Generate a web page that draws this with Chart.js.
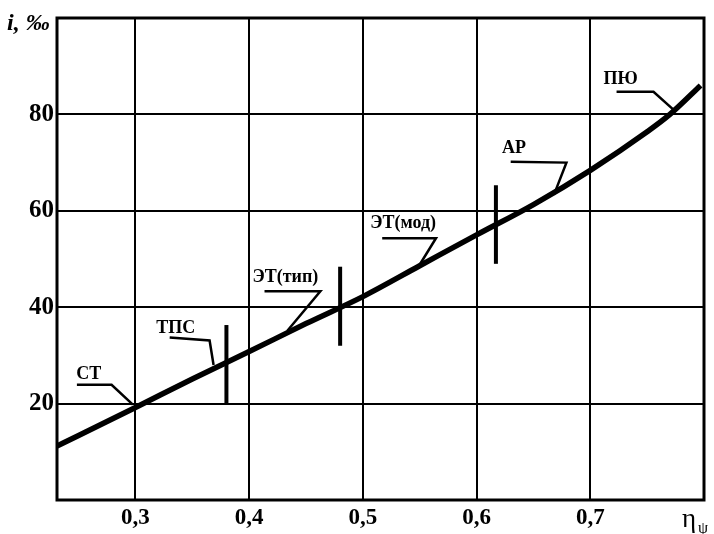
<!DOCTYPE html>
<html>
<head>
<meta charset="utf-8">
<script src="https://cdn.jsdelivr.net/npm/chart.js@4"></script>
<style>
  html, body { margin: 0; padding: 0; background: #fff; }
  canvas { display: block; }
</style>
</head>
<body>
<canvas id="chart" width="714" height="534"></canvas>
<script>
/* ---------------- DATA ---------------- */

const xMin = 0.231;
const xMax = 0.8;
const xTicks = [0.3, 0.4, 0.5, 0.6, 0.7];
const yTicks = [20, 40, 60, 80];

// main curve i(eta)
const etaX = [0.231, 0.25, 0.3, 0.35, 0.4, 0.45, 0.5, 0.55, 0.6, 0.65, 0.7, 0.75, 0.77, 0.797];
const slopeI = [11.2, 13.4, 19.2, 25.1, 30.8, 36.6, 42.2, 48.6, 55.0, 61.3, 68.4, 76.4, 80.0, 86.0];

// short vertical marks on the curve
const barX = [0.380, 0.480, 0.617];
const barLow = [20, 32, 49];
const barHigh = [36.3, 48.4, 65.3];

// annotation labels and their leader lines
const tagNames = ['СТ', 'ТПС', 'ЭТ(тип)', 'ЭТ(мод)', 'АР', 'ПЮ'];
const tagX = [0.259, 0.3354, 0.4319, 0.5354, 0.6328, 0.7266];
const tagY = [26.1, 35.7, 46.1, 57.3, 72.9, 87.3];
const leaderX = [
  [0.2485, 0.279, 0.2977],
  [0.3301, 0.3652, 0.3687],
  [0.4135, 0.4626, 0.4336],
  [0.517, 0.5643, 0.5494],
  [0.630, 0.679, 0.668],
  [0.7231, 0.7556, 0.7731]
];
const leaderY = [
  [23.9, 23.9, 19.8],
  [33.7, 33.1, 28.0],
  [43.3, 43.3, 35.1],
  [54.3, 54.3, 48.6],
  [70.2, 70.0, 63.3],
  [84.7, 84.7, 81.0]
];

/* ---------------- DATASETS ---------------- */

const datasets = [];

datasets.push({
  data: etaX.map((x, i) => ({ x: x, y: slopeI[i] })),
  borderColor: '#000',
  borderWidth: 5.5,
  pointRadius: 0,
  cubicInterpolationMode: 'monotone',
  showLine: true
});

barX.forEach((x, i) => {
  datasets.push({
    data: [{ x: x, y: barLow[i] }, { x: x, y: barHigh[i] }],
    borderColor: '#000',
    borderWidth: 4,
    pointRadius: 0,
    showLine: true
  });
});

leaderX.forEach((xs, i) => {
  datasets.push({
    data: xs.map((x, j) => ({ x: x, y: leaderY[i][j] })),
    borderColor: '#000',
    borderWidth: 2.5,
    pointRadius: 0,
    showLine: true
  });
});

/* ---------------- PLUGINS ---------------- */

const framePlugin = {
  id: 'frame',
  afterDatasetsDraw(chart) {
    const a = chart.chartArea;
    const ctx = chart.ctx;
    ctx.save();
    ctx.strokeStyle = '#000';
    ctx.lineWidth = 3;
    ctx.strokeRect(a.left, a.top, a.right - a.left, a.bottom - a.top);
    ctx.restore();
  }
};

const tagPlugin = {
  id: 'tags',
  afterDatasetsDraw(chart) {
    const ctx = chart.ctx;
    const xs = chart.scales.x;
    const ys = chart.scales.y;
    ctx.save();
    ctx.fillStyle = '#000';
    ctx.font = 'bold 18px "Liberation Serif"';
    ctx.textAlign = 'center';
    ctx.textBaseline = 'middle';
    tagNames.forEach((t, i) => {
      ctx.fillText(t, xs.getPixelForValue(tagX[i]), ys.getPixelForValue(tagY[i]));
    });

    // axis captions
    ctx.textAlign = 'left';
    ctx.textBaseline = 'alphabetic';
    ctx.font = 'bold italic 24px "Liberation Serif"';
    ctx.fillText('i, ‰', 7, 30);
    ctx.font = '27px "Liberation Serif"';
    ctx.fillText('η', 682, 527);
    ctx.font = '16px "Liberation Serif"';
    ctx.fillText('ψ', 698, 533);
    ctx.restore();
  }
};

/* ---------------- CHART ---------------- */

const fmt = v => v.toFixed(1).replace('.', ',');

new Chart(document.getElementById('chart').getContext('2d'), {
  type: 'scatter',
  data: { datasets: datasets },
  plugins: [framePlugin, tagPlugin],
  options: {
    responsive: false,
    animation: false,
    devicePixelRatio: 1,
    layout: { padding: { top: 10, right: 10, left: 0, bottom: 0 } },
    plugins: { legend: { display: false }, tooltip: { enabled: false } },
    scales: {
      x: {
        type: 'linear',
        min: xMin,
        max: xMax,
        afterBuildTicks: s => { s.ticks = xTicks.map(v => ({ value: v })); },
        afterFit: s => { s.height = 34; },
        ticks: {
          callback: v => fmt(v),
          color: '#000',
          font: { family: 'Liberation Serif', size: 23, weight: 'bold' },
          padding: 4,
          maxRotation: 0,
          autoSkip: false
        },
        grid: { color: '#000', lineWidth: 2, drawTicks: false },
        border: { display: false }
      },
      y: {
        type: 'linear',
        min: 0,
        max: 100,
        afterBuildTicks: s => { s.ticks = yTicks.map(v => ({ value: v })); },
        afterFit: s => { s.width = 57; },
        ticks: {
          color: '#000',
          font: { family: 'Liberation Serif', size: 25, weight: 'bold' },
          padding: 3
        },
        grid: { color: '#000', lineWidth: 2, drawTicks: false },
        border: { display: false }
      }
    }
  }
});
</script>
</body>
</html>
